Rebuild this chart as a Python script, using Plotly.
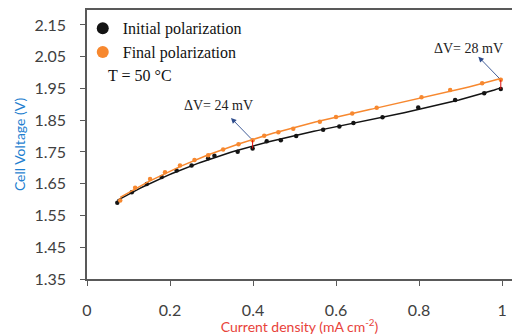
import numpy as np
import plotly.graph_objects as go

# Initial polarization (black)
init_j = [0.073, 0.108, 0.144, 0.180, 0.216, 0.252, 0.292, 0.307, 0.363, 0.399, 0.433, 0.467,
          0.504, 0.569, 0.608, 0.642, 0.712, 0.798, 0.887, 0.957, 0.997]
init_v = [1.590, 1.623, 1.649, 1.671, 1.692, 1.707, 1.730, 1.738, 1.751, 1.761, 1.784, 1.787,
          1.800, 1.820, 1.830, 1.841, 1.859, 1.890, 1.914, 1.935, 1.948]

# Final polarization (orange)
final_j = [0.080, 0.116, 0.152, 0.188, 0.224, 0.259, 0.292, 0.328, 0.365, 0.399, 0.427, 0.461,
           0.497, 0.561, 0.600, 0.639, 0.698, 0.806, 0.875, 0.952, 0.997]
final_v = [1.597, 1.637, 1.665, 1.686, 1.707, 1.725, 1.740, 1.758, 1.774, 1.787, 1.801, 1.812,
           1.823, 1.845, 1.860, 1.871, 1.889, 1.922, 1.945, 1.966, 1.977]

y_ticks = [1.35, 1.45, 1.55, 1.65, 1.75, 1.85, 1.95, 2.05, 2.15]
x_ticks = [0, 0.2, 0.4, 0.6, 0.8, 1]
x_tick_text = ["0", "0.2", "0.4", "0.6", "0.8", "1"]

dv_labels = ["ΔV= 24 mV", "ΔV= 28 mV"]
dv_x = [0.399, 0.997]
dv_low = [1.761, 1.948]
dv_high = [1.787, 1.977]
dv_tip_x = [0.347, 0.943]
dv_tip_v = [1.857, 2.050]
dv_text_x = [0.316, 0.920]
dv_text_v = [1.895, 2.075]

BLACK = "#141414"
ORANGE = "#F7882F"
AXIS = "#595959"
SERIF = "Liberation Serif"
SANS = "Lato"


def trend(xs, ys):
    # polynomial trendline through the read points (as in the source chart)
    c = np.polyfit(xs, ys, 3)
    xx = np.linspace(min(xs), max(xs), 120)
    return xx, np.polyval(c, xx)


fig = go.Figure()
for xs, ys, col, name in [(init_j, init_v, BLACK, "Initial polarization"),
                          (final_j, final_v, ORANGE, "Final polarization")]:
    tx, ty = trend(xs, ys)
    fig.add_trace(go.Scatter(x=tx, y=ty, mode="lines", line=dict(color=col, width=1.5),
                             showlegend=False, hoverinfo="skip"))
    fig.add_trace(go.Scatter(x=xs, y=ys, mode="markers", name=name, legendgroup=name,
                             marker=dict(color=col, size=4.5)))

for i in range(len(dv_x)):
    fig.add_trace(go.Scatter(
        x=[dv_x[i], dv_x[i]], y=[dv_low[i], dv_high[i]], mode="lines",
        line=dict(color="#E01010", width=1), showlegend=False, hoverinfo="skip",
    ))
    fig.add_annotation(
        x=dv_tip_x[i], y=dv_tip_v[i], ax=dv_x[i], ay=dv_high[i],
        xref="x", yref="y", axref="x", ayref="y",
        text="", showarrow=True, arrowhead=2, arrowsize=1.2, arrowwidth=0.9,
        arrowcolor="#2E4C8C", standoff=0, startstandoff=0,
    )
    fig.add_annotation(
        x=dv_text_x[i], y=dv_text_v[i], xref="x", yref="y", text=dv_labels[i],
        showarrow=False, font=dict(family=SERIF, size=14, color="#222222"),
    )

fig.add_annotation(
    x=0.046, y=1.992, xref="x", yref="y", xanchor="left", yanchor="middle",
    text="T = 50 °C", showarrow=False, font=dict(family=SERIF, size=16, color="#111111"),
)

fig.update_layout(
    width=512, height=335,
    margin=dict(l=87, r=0, t=10, b=53),
    paper_bgcolor="white", plot_bgcolor="white",
    showlegend=True,
    legend=dict(
        x=-0.01, y=0.995, xanchor="left", yanchor="top",
        font=dict(family=SERIF, size=16, color="#111111"),
        bgcolor="rgba(0,0,0,0)", itemsizing="constant", tracegroupgap=0,
        itemwidth=30,
    ),
    font=dict(family=SANS, color="#404040"),
    xaxis2=dict(overlaying="x", anchor="y", side="bottom", range=[0, 1.024],
                tickvals=x_ticks, showticklabels=False, ticks="inside", ticklen=5,
                tickcolor=AXIS, tickwidth=1, showgrid=False, zeroline=False, showline=False),
    yaxis2=dict(overlaying="y", anchor="x", side="left", range=[1.35, 2.197],
                tickvals=y_ticks, showticklabels=False, ticks="inside", ticklen=5,
                tickcolor=AXIS, tickwidth=1, showgrid=False, zeroline=False, showline=False),
)

fig.layout.xaxis.update(
    range=[0, 1.024], tickvals=x_ticks, ticktext=x_tick_text,
    showgrid=False, zeroline=False,
    showline=True, linecolor=AXIS, linewidth=1.5, mirror=True,
    ticks="outside", ticklen=5, tickcolor=AXIS, tickwidth=1, ticklabelstandoff=11,
    tickfont=dict(family=SANS, size=16, color="#404040"),
    title=dict(text="Current density (mA cm<sup>-2</sup>)",
               font=dict(family=SANS, size=14, color="#E8423A"), standoff=6),
)
fig.layout.yaxis.update(
    range=[1.35, 2.197], tickvals=y_ticks, ticktext=[f"{v:.2f}" for v in y_ticks],
    showgrid=False, zeroline=False,
    showline=True, linecolor=AXIS, linewidth=1.5,
    ticks="outside", ticklen=5, tickcolor=AXIS, tickwidth=1, ticklabelstandoff=11,
    tickfont=dict(family=SANS, size=16, color="#404040"),
    title=dict(text="Cell Voltage (V)",
               font=dict(family=SANS, size=14, color="#1F7FD0"), standoff=6),
)

fig.write_html("out.html")
